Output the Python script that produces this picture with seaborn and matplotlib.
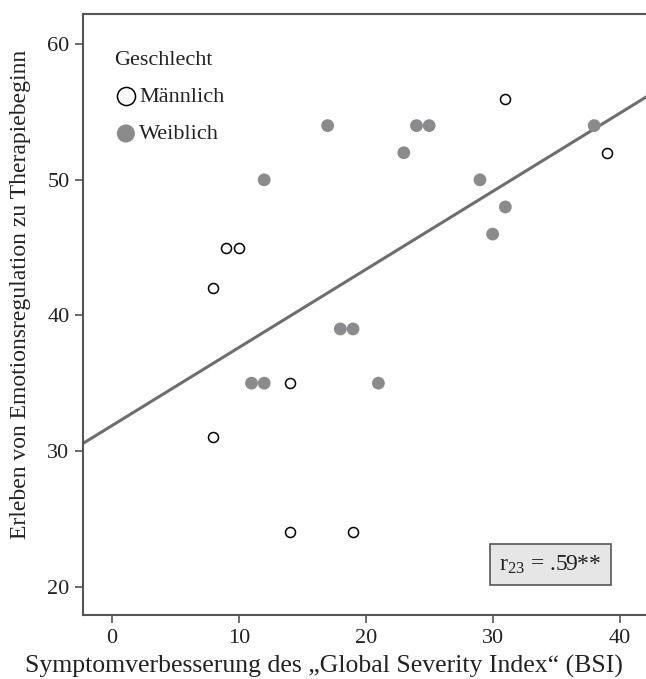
import matplotlib
matplotlib.use("Agg")
import matplotlib.pyplot as plt
import pandas as pd
import seaborn as sns

# Werte
maennlich_x = [8, 9, 10, 14, 8, 14, 19, 31, 39]
maennlich_y = [42, 45, 45, 35, 31, 24, 24, 56, 52]
weiblich_x = [12, 17, 24, 25, 23, 29, 31, 30, 38, 18, 19, 11, 12, 21]
weiblich_y = [50, 54, 54, 54, 52, 50, 48, 46, 54, 39, 39, 35, 35, 35]
x_ticks = [0, 10, 20, 30, 40]
y_ticks = [20, 30, 40, 50, 60]

df = pd.DataFrame({
    'bsi': maennlich_x + weiblich_x,
    'emo': maennlich_y + weiblich_y,
    'Geschlecht': ['Männlich'] * len(maennlich_x) + ['Weiblich'] * len(weiblich_x),
})

sns.set_theme(style='white')
plt.rcParams['font.family'] = ['Liberation Serif', 'DejaVu Serif']
plt.rcParams['mathtext.fontset'] = 'custom'
plt.rcParams['mathtext.rm'] = 'Liberation Serif'
plt.rcParams['mathtext.it'] = 'Liberation Serif:italic'

fig = plt.figure(figsize=(6.46, 6.79), dpi=100)
ax = fig.add_axes([0.129, 0.0943, 0.889, 0.885])
ax.set_xlim(-2.25, 43)
ax.set_ylim(17.9, 62.23)

# Regressionsgerade ueber alle Faelle
sns.regplot(data=df, x='bsi', y='emo', ax=ax, scatter=False, ci=None,
            truncate=False, color='#6e6e6e', line_kws={'lw': 2.2})

m = df[df['Geschlecht'] == 'Männlich']
w = df[df['Geschlecht'] == 'Weiblich']
sns.scatterplot(data=m, x='bsi', y='emo', ax=ax, s=52, marker='o',
                facecolor='white', edgecolor='black', linewidth=1.1,
                label='Männlich', zorder=3)
sns.scatterplot(data=w, x='bsi', y='emo', ax=ax, s=85, marker='o',
                color='#8b8b8d', edgecolor='none', linewidth=0,
                label='Weiblich', zorder=3)

ax.set_xlim(-2.25, 43)
ax.set_ylim(17.9, 62.23)
ax.set_xticks(x_ticks)
ax.set_yticks(y_ticks)
ax.tick_params(axis='both', labelsize=16, length=6, width=1.2,
               color='#555555', labelcolor='#222222', direction='out',
               bottom=True, left=True, pad=4)
for s in ax.spines.values():
    s.set_color('#555555')
    s.set_linewidth(1.5)

ax.set_xlabel('Symptomverbesserung des „Global Severity Index“ (BSI)',
              fontsize=18.5, color='#222222', va='center')
ax.xaxis.set_label_coords(0.419, -0.086)
ax.set_ylabel('Erleben von Emotionsregulation zu Therapiebeginn',
              fontsize=17, color='#222222', va='center')
ax.yaxis.set_label_coords(-0.11, 0.534)

leg = ax.legend(title='Geschlecht', loc='upper left', frameon=False,
                fontsize=16, title_fontsize=16, handletextpad=0.05,
                borderaxespad=0.5, labelspacing=0.75, handlelength=1.1,
                bbox_to_anchor=(0.018, 0.972))
leg._legend_box.align = 'left'
for h in leg.legend_handles:
    h.set_sizes([170])
for t in leg.get_texts():
    t.set_color('#222222')
leg.get_title().set_color('#222222')

ax.text(0.813, 0.084, r'r$_{23}$ = .59**', transform=ax.transAxes,
        fontsize=17, color='#222222', ha='center', va='center',
        bbox=dict(boxstyle='square,pad=0.4', facecolor='#e6e6e6',
                  edgecolor='#555555', linewidth=1.2))

fig.savefig('out.png', dpi=100)
